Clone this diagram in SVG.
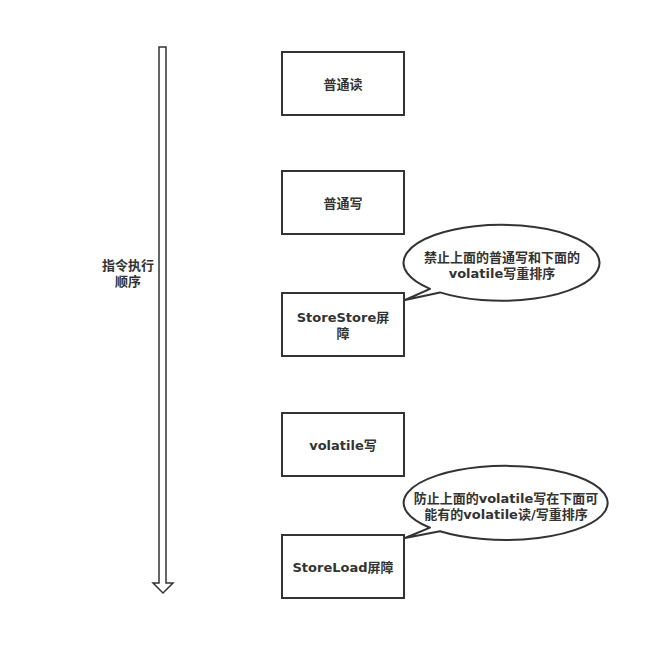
<svg xmlns="http://www.w3.org/2000/svg" width="670" height="660" viewBox="0 0 670 660">
<style>
.box{fill:#fff;stroke:#333;stroke-width:2}
.bub{fill:#fff;stroke:#333;stroke-width:2;stroke-linejoin:round}
.t{font-family:"DejaVu Sans","Noto Sans CJK SC",sans-serif;font-size:13px;font-weight:bold;fill:#333;text-anchor:middle}
</style>
<rect width="670" height="660" fill="#fff"/>
<g id="connectors">
<path d="M159,47 L166,47 L166,583 L173,583 L163,593 L153,583 L159,583 Z" fill="#fff" stroke="#333" stroke-width="1.5" stroke-linejoin="miter"/>
</g>
<g id="order-label">
<text class="t" x="128" y="270">指令执行</text>
<text class="t" x="128" y="286">顺序</text>
</g>
<g id="n1">
<rect class="box" x="282" y="52" width="122" height="63"/>
<text class="t" x="343" y="89">普通读</text>
</g>
<g id="n2">
<rect class="box" x="282" y="171" width="122" height="63"/>
<text class="t" x="343" y="208">普通写</text>
</g>
<g id="n3">
<rect class="box" x="282" y="293" width="122" height="63"/>
<text class="t" x="343" y="322">StoreStore屏</text>
<text class="t" x="343" y="338">障</text>
</g>
<g id="n4">
<rect class="box" x="282" y="413" width="122" height="63"/>
<text class="t" x="343" y="450">volatile写</text>
</g>
<g id="n5">
<rect class="box" x="282" y="535" width="122" height="63"/>
<text class="t" x="343" y="572">StoreLoad屏障</text>
</g>
<g id="callout1">
<path class="bub" d="M430,288.8 L405,300 L440,292.4 A98,38 0 1 0 430,288.8 Z"/>
<text class="t" x="502" y="262">禁止上面的普通写和下面的</text>
<text class="t" x="502" y="278">volatile写重排序</text>
</g>
<g id="callout2">
<path class="bub" d="M430,527.7 L405,538 L440,531.2 A102,37 0 1 0 430,527.7 Z"/>
<text class="t" x="506" y="503">防止上面的volatile写在下面可</text>
<text class="t" x="506" y="519">能有的volatile读/写重排序</text>
</g>
</svg>
